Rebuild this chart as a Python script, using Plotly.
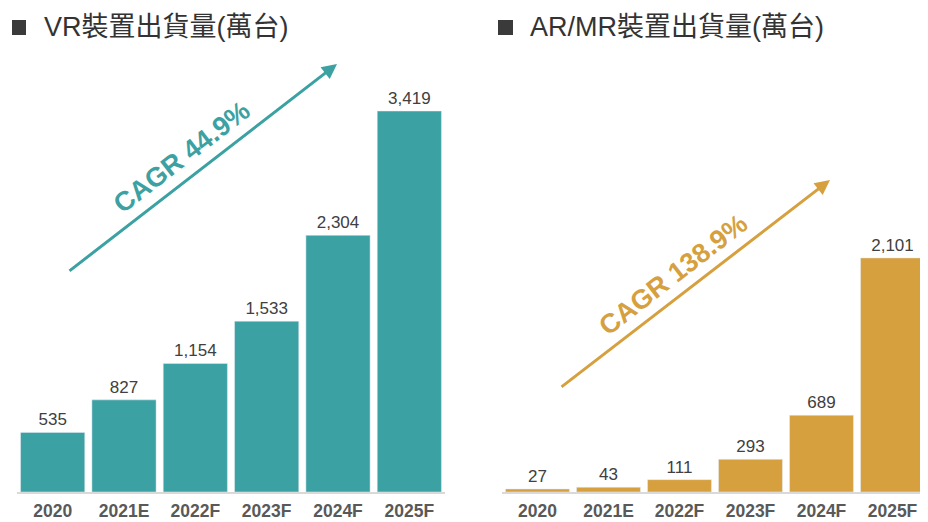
import plotly.graph_objects as go

categories = ["2020", "2021E", "2022F", "2023F", "2024F", "2025F"]
vr_values = [535, 827, 1154, 1533, 2304, 3419]
ar_values = [27, 43, 111, 293, 689, 2101]
vr_title = "VR裝置出貨量(萬台)"
ar_title = "AR/MR裝置出貨量(萬台)"
vr_cagr = "CAGR 44.9%"
ar_cagr = "CAGR 138.9%"

TEAL = "#3CA1A2"
GOLD = "#D6A03F"
OFF = 8  # page body margin
W, H = 928 - OFF, 522 - OFF
FONT = "Liberation Sans, Arial, Noto Sans CJK TC, sans-serif"


def px(x):
    return (x - OFF) / W


def py(y):
    return 1 - (y - OFF) / H


fig = go.Figure()
fig.add_trace(go.Bar(x=categories, y=vr_values, marker_color=TEAL, xaxis="x", yaxis="y",
                     texttemplate="%{y:,}", textposition="outside", cliponaxis=False,
                     textfont=dict(size=17, color="#404040", family=FONT)))
fig.add_trace(go.Bar(x=categories, y=ar_values, marker_color=GOLD, xaxis="x2", yaxis="y2",
                     texttemplate="%{y:,}", textposition="outside", cliponaxis=False,
                     textfont=dict(size=17, color="#404040", family=FONT)))

# panel titles as text marks on an overlay axis expressed in page pixels
fig.add_trace(go.Scatter(x=[44, 530], y=[29, 29], text=[vr_title, ar_title],
                         mode="text", textposition="middle right", cliponaxis=False,
                         hoverinfo="skip", xaxis="x3", yaxis="y3",
                         textfont=dict(size=27, color="#333333", family=FONT)))

yr = [0, (492 - 91) / 0.11143]

xcommon = dict(showline=True, linecolor="#D9D9D9", linewidth=1.5, ticks="outside",
               ticklen=2, tickcolor="rgba(0,0,0,0)",
               tickfont=dict(size=17.5, color="#595959", family=FONT, weight="bold"),
               showgrid=False, zeroline=False, fixedrange=True)
ycommon = dict(range=yr, visible=False, showgrid=False, zeroline=False,
               domain=[py(492), py(91)], fixedrange=True)

fig.update_layout(
    width=W, height=H, margin=dict(l=0, r=0, t=0, b=0),
    paper_bgcolor="white", plot_bgcolor="rgba(0,0,0,0)", showlegend=False,
    bargap=0.1,
    xaxis=dict(domain=[px(17), px(445)], anchor="y", **xcommon),
    yaxis=dict(anchor="x", **ycommon),
    xaxis2=dict(domain=[px(502), 1.0], anchor="y2", **xcommon),
    yaxis2=dict(anchor="x2", **ycommon),
    xaxis3=dict(domain=[0, 1], range=[OFF, 928], anchor="y3", visible=False,
                fixedrange=True),
    yaxis3=dict(domain=[0, 1], range=[522, OFF], anchor="x3", visible=False,
                fixedrange=True),
)

for x0, x1 in [(12, 26), (498, 513)]:
    fig.add_shape(type="rect", xref="paper", yref="paper", x0=px(x0), x1=px(x1),
                  y0=py(35), y1=py(20), fillcolor="#3A3A3A", line_width=0)

ann = [
    dict(text="", x=px(337), y=py(64), ax=68 - 337, ay=272 - 64, showarrow=True,
         arrowhead=2, arrowsize=1, arrowwidth=3, arrowcolor=TEAL),
    dict(text="", x=px(830), y=py(180), ax=560 - 830, ay=388 - 180, showarrow=True,
         arrowhead=2, arrowsize=1, arrowwidth=3, arrowcolor=GOLD),
    dict(text=vr_cagr, x=px(182), y=py(157), textangle=-37.7, showarrow=False,
         xanchor="center", yanchor="middle",
         font=dict(size=27, color=TEAL, family=FONT, weight="bold")),
    dict(text=ar_cagr, x=px(673), y=py(275), textangle=-37.7, showarrow=False,
         xanchor="center", yanchor="middle",
         font=dict(size=27, color=GOLD, family=FONT, weight="bold")),
]
for a in ann:
    a.setdefault("xref", "paper")
    a.setdefault("yref", "paper")
    fig.add_annotation(**a)

fig.write_html("out.html")
